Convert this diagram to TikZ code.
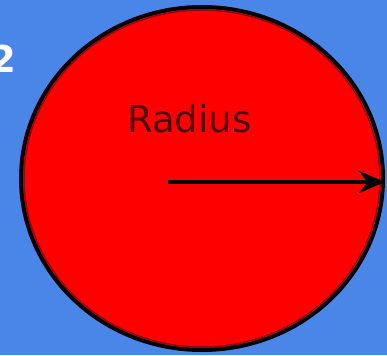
\documentclass[tikz,border=0pt]{standalone}
\usepackage{fontspec}
\setsansfont{DejaVu Sans}
\usetikzlibrary{positioning,arrows.meta,shapes.geometric}

\definecolor{slideblue}{RGB}{74,134,232}
\definecolor{labelred}{RGB}{80,0,0}
\definecolor{rimred}{RGB}{140,10,10}

\begin{document}
\begin{tikzpicture}[
  x=1pt, y=-1pt,
  >={Stealth[length=26pt, width=22pt]},
  disc/.style={ellipse, draw=black, line width=4pt, fill=red, inner sep=0pt},
  rim/.style={draw=rimred, line width=1.5pt},
  lbl/.style={font=\sffamily\fontsize{37}{40}\selectfont, text=labelred, inner sep=0pt},
  num/.style={font=\sffamily\bfseries\fontsize{37}{40}\selectfont, text=white, inner sep=0pt},
  ray/.style={->, draw=black, line width=4.5pt},
]
% ---- background ----
\fill[slideblue] (0,0) rectangle (387,355);
\useasboundingbox (0,0) rectangle (387,355);

% ---- step number (cut at the left edge) ----
\node[num, anchor=base east] (stepnum) at (16,73) {2};

% ---- the disc ----
\node[disc, minimum width=362pt, minimum height=343pt] (circ) at (202,178.5) {};
\draw[rim] (circ.center) ellipse (178 and 168.5);

% ---- label and radius arrow ----
\node[lbl, anchor=base west] (radlbl) at (127,133) {Radius};
\coordinate (ctr) at (168,182);
\draw[ray] (ctr) -- (ctr -| circ.east);
\end{tikzpicture}
\end{document}
